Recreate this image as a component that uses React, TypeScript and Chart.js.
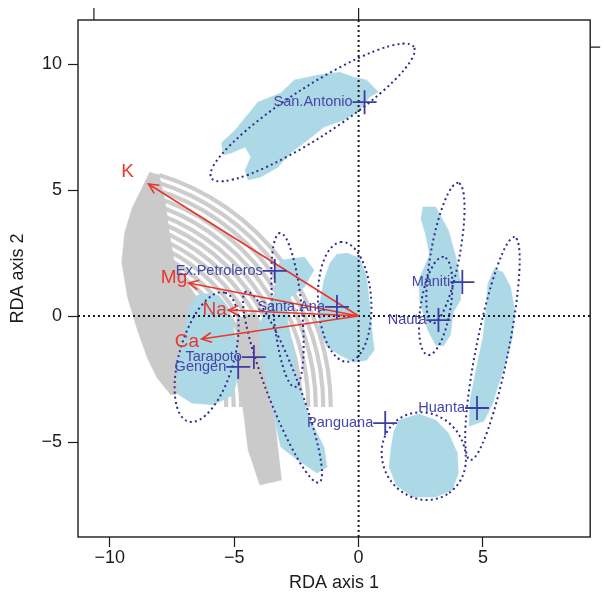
import React, { useEffect, useRef } from 'react';
import { Chart, registerables } from 'chart.js';
Chart.register(...registerables);

// ---------- axes ----------
const X_MIN = -11.28;
const X_MAX = 9.31;
const Y_MIN = -8.77;
const Y_MAX = 11.75;
const X_TICKS = [-10, -5, 0, 5];
const Y_TICKS = [-5, 0, 5, 10];
const TOP_TICKS = [-10.64, 0];
const RIGHT_TICKS = [10.67];

// ---------- site centroids ----------
const siteNames = ['San.Antonio', 'Ex.Petroleros', 'Santa.Ana', 'Tarapoto', 'Gengen', 'Maniti', 'Nauta', 'Huanta', 'Panguana'];
const siteX = [0.24, -3.37, -0.87, -4.21, -4.84, 4.17, 3.21, 4.76, 1.07];
const siteY = [8.49, 1.79, 0.36, -1.63, -2.02, 1.35, -0.16, -3.65, -4.25];

// ---------- ellipses (centre, semi-axes, angle in degrees) ----------
const ellCX = [-1.85, -0.56, 3.49, 3.10, 5.38, 2.62, -6.11, -2.86, -3.06];
const ellCY = [8.08, 0.56, 2.50, 0.40, -1.29, -5.56, -1.63, 0.24, -2.82];
const ellA = [4.83, 2.38, 2.83, 1.97, 4.51, 1.78, 2.66, 3.07, 4.06];
const ellB = [1.0, 1.07, 0.58, 0.6, 0.65, 1.65, 1.1, 0.58, 0.65];
const ellAng = [32.6, 93, 79.5, 80.7, 78.6, -55, 74, 95.6, 111.2];

// ---------- environmental arrows ----------
const envNames = ['K', 'Mg', 'Na', 'Ca'];
const envX = [-8.45, -6.83, -5.24, -6.31];
const envY = [5.24, 1.31, 0.24, -0.91];
const envLabelX = [-9.29, -7.42, -5.79, -6.9];
const envLabelY = [5.71, 1.51, 0.24, -1.03];

// ---------- site score clouds (outlines) ----------
const cloudSanAntonio = [
  [-5.52, 6.87], [-4.96, 7.38], [-4.05, 8.49], [-3.13, 8.85], [-2.58, 9.37], [-1.67, 9.56], [-0.75, 9.68],
  [-0.2, 9.48], [0.32, 9.37], [0.79, 8.89], [0.44, 8.69], [0.04, 8.17], [-0.6, 7.78], [-1.39, 7.5],
  [-2.06, 6.98], [-2.74, 6.47], [-3.25, 5.91], [-3.93, 5.52], [-4.44, 5.4], [-4.56, 5.79], [-4.33, 6.31],
  [-4.56, 6.71], [-5.12, 6.47], [-5.44, 6.39],
];
const cloudGengen = [
  [-6.31, 0.91], [-5.63, 0.83], [-5.24, 0.36], [-5.04, -0.44], [-4.84, -1.35], [-4.84, -2.34], [-5.04, -3.13],
  [-5.83, -3.53], [-6.71, -3.45], [-7.22, -3.13], [-7.34, -2.14], [-7.14, -1.15], [-6.94, -0.36], [-6.83, 0.32],
  [-6.55, 0.79],
];
const cloudTarapoto = [
  [-3.13, 2.22], [-2.18, 2.34], [-1.79, 1.83], [-2.18, 1.15], [-2.74, 0.75], [-2.86, -0.16], [-2.58, -1.47],
  [-2.46, -2.54], [-1.94, -4.13], [-1.39, -5.2], [-1.27, -5.99], [-1.67, -6.23], [-2.46, -5.71], [-3.13, -5.2],
  [-3.37, -4.13], [-3.65, -2.82], [-3.93, -1.47], [-4.05, -0.44], [-3.77, 0.12], [-3.37, 0.91], [-3.33, 1.83],
];
const cloudSantaAna = [
  [-0.48, 2.5], [0.04, 2.3], [0.32, 1.55], [0.44, 0.52], [0.52, -0.44], [0.63, -1.35], [0.32, -1.75],
  [-0.2, -1.83], [-0.75, -1.55], [-1.27, -1.23], [-1.59, -0.56], [-1.59, 0.36], [-1.39, 1.43], [-1.15, 2.1],
  [-0.87, 2.46],
];
const cloudManitiNauta = [
  [2.58, 4.33], [3.1, 4.33], [3.61, 3.41], [3.89, 2.42], [4.09, 1.43], [4.09, 0.63], [3.81, 0.16],
  [3.69, -0.75], [3.41, -1.19], [3.1, -1.15], [2.78, -0.56], [2.46, 0.63], [2.42, 1.43], [2.62, 1.9],
  [2.86, 2.42], [2.7, 3.21], [2.5, 3.89],
];
const cloudHuanta = [
  [5.44, 1.87], [5.79, 1.75], [6.11, 1.15], [6.27, 0.24], [6.19, -0.83], [5.91, -1.87], [5.64, -2.66],
  [5.4, -3.45], [5.04, -4.17], [4.44, -4.37], [4.48, -3.33], [4.72, -2.14], [5.0, -0.83], [5.12, 0.24],
  [5.2, 1.31],
];
const cloudPanguana = [
  [1.63, -4.13], [2.42, -3.89], [3.1, -4.13], [3.61, -4.64], [3.97, -5.44], [4.01, -6.23], [3.77, -6.9],
  [3.1, -7.18], [2.18, -7.18], [1.51, -6.71], [1.23, -5.99], [1.31, -5.2], [1.43, -4.52],
];
const greyDense = [
  [-8.41, 5.71], [-8.02, 5.6], [-7.78, 4.6], [-7.62, 3.41], [-7.42, 2.22], [-6.83, 1.23], [-6.43, 0.63],
  [-6.43, -2.94], [-7.54, -3.13], [-8.1, -2.46], [-8.49, -1.67], [-8.89, -0.56], [-9.29, 0.75], [-9.52, 2.14],
  [-9.4, 3.33], [-9.09, 4.33],
];
const greyTail = [
  [-4.92, -0.16], [-4.13, 0.24], [-3.55, -2.54], [-3.1, -6.51], [-3.97, -6.71], [-4.44, -5.32], [-4.64, -3.73],
  [-4.92, -2.14],
];
// grey striped fan (concentric arcs)
const STRIPE_CX = -10.87;
const STRIPE_CY = -3.61;
const STRIPE_RADII = [5.55, 5.85, 6.15, 6.45, 6.75, 7.05, 7.35, 7.65, 7.95, 8.25, 8.55, 8.85, 9.15, 9.45, 9.75];
const STRIPE_ANGLES = [73, 0]; // degrees, data orientation

const FONT = 'Liberation Sans, Arial, Helvetica, sans-serif';
const BLUE_FILL = '#add8e6';
const GREY_FILL = '#cacaca';
const STRIPE_COLOR = '#cdcdcd';
const ELL_COLOR = '#2e2e8c';
const SITE_COLOR = '#4646a6';
const RED = '#e8372c';
const INK = '#1c1c1c';

const fmt = (v: number) => (v < 0 ? '\u2212' + Math.abs(v) : String(v));
const pts = (arr: number[][]) => arr.map(([x, y]) => ({ x, y }));

function polygon(label: string, arr: number[][], color: string, order: number) {
  return {
    label,
    data: pts(arr),
    showLine: true,
    fill: 'shape',
    backgroundColor: color,
    borderColor: color,
    borderWidth: 0.5,
    pointRadius: 0,
    tension: 0,
    order,
  };
}

let ellipsesDrawn = false;

function drawEllipses(chart: any) {
  const { ctx, scales } = chart;
  const x = scales.x, y = scales.y;
  const kx = x.getPixelForValue(1) - x.getPixelForValue(0);
  const ky = y.getPixelForValue(1) - y.getPixelForValue(0);
  const area = chart.chartArea;
  ctx.save();
  ctx.lineCap = 'butt';
  // zero lines
  ctx.strokeStyle = INK;
  ctx.lineWidth = 2;
  ctx.setLineDash([2, 3]);
  const x0 = x.getPixelForValue(0), y0 = y.getPixelForValue(0);
  ctx.beginPath();
  ctx.moveTo(x0, area.top);
  ctx.lineTo(x0, area.bottom);
  ctx.moveTo(area.left, y0);
  ctx.lineTo(area.right, y0);
  ctx.stroke();
  // ellipses
  ctx.strokeStyle = ELL_COLOR;
  ctx.lineWidth = 2;
  ctx.setLineDash([2, 3.2]);
  for (let i = 0; i < ellCX.length; i++) {
    ctx.save();
    ctx.translate(x.getPixelForValue(ellCX[i]), y.getPixelForValue(ellCY[i]));
    ctx.scale(kx, ky);
    ctx.rotate((ellAng[i] * Math.PI) / 180);
    ctx.beginPath();
    ctx.ellipse(0, 0, ellA[i], ellB[i], 0, 0, Math.PI * 2);
    ctx.restore();
    ctx.stroke();
  }
  ctx.restore();
}

const plotPlugin = {
  id: 'rdaDecor',
  beforeDatasetsDraw(chart: any) {
    ellipsesDrawn = false;
    const { ctx, chartArea: area, scales } = chart;
    const x = scales.x, y = scales.y;
    const k = x.getPixelForValue(1) - x.getPixelForValue(0);
    ctx.save();
    ctx.beginPath();
    ctx.rect(area.left, area.top, area.right - area.left, area.bottom - area.top);
    ctx.clip();
    ctx.strokeStyle = STRIPE_COLOR;
    ctx.lineWidth = 4.2;
    const cx = x.getPixelForValue(STRIPE_CX), cy = y.getPixelForValue(STRIPE_CY);
    const a0 = (-STRIPE_ANGLES[0] * Math.PI) / 180;
    const a1 = (-STRIPE_ANGLES[1] * Math.PI) / 180;
    for (const r of STRIPE_RADII) {
      ctx.beginPath();
      ctx.arc(cx, cy, r * k, a0, a1);
      ctx.stroke();
    }
    ctx.restore();
  },
  beforeDatasetDraw(chart: any, args: any) {
    const ds = chart.data.datasets[args.index];
    if (ds && ds.kind === 'arrow' && !ellipsesDrawn) {
      drawEllipses(chart);
      ellipsesDrawn = true;
    }
  },
  afterDatasetsDraw(chart: any) {
    const { ctx, chartArea: area, scales } = chart;
    const x = scales.x, y = scales.y;
    if (!ellipsesDrawn) {
      drawEllipses(chart);
      ellipsesDrawn = true;
    }
    ctx.save();
    // arrow heads
    ctx.strokeStyle = RED;
    ctx.lineWidth = 1.6;
    const ox = x.getPixelForValue(0), oy = y.getPixelForValue(0);
    for (let i = 0; i < envX.length; i++) {
      const tx = x.getPixelForValue(envX[i]), ty = y.getPixelForValue(envY[i]);
      const ang = Math.atan2(ty - oy, tx - ox);
      const L = 11, spread = (26 * Math.PI) / 180;
      ctx.beginPath();
      ctx.moveTo(tx - L * Math.cos(ang - spread), ty - L * Math.sin(ang - spread));
      ctx.lineTo(tx, ty);
      ctx.lineTo(tx - L * Math.cos(ang + spread), ty - L * Math.sin(ang + spread));
      ctx.stroke();
    }
    // arrow labels
    ctx.fillStyle = RED;
    ctx.font = `19px ${FONT}`;
    ctx.textAlign = 'center';
    ctx.textBaseline = 'middle';
    for (let i = 0; i < envNames.length; i++) {
      ctx.fillText(envNames[i], x.getPixelForValue(envLabelX[i]), y.getPixelForValue(envLabelY[i]));
    }
    // site labels
    ctx.fillStyle = SITE_COLOR;
    ctx.font = `14.5px ${FONT}`;
    ctx.textAlign = 'right';
    for (let i = 0; i < siteNames.length; i++) {
      ctx.fillText(siteNames[i], x.getPixelForValue(siteX[i]) - 12, y.getPixelForValue(siteY[i]));
    }
    // frame
    ctx.strokeStyle = INK;
    ctx.lineWidth = 1.4;
    ctx.setLineDash([]);
    ctx.strokeRect(area.left, area.top, area.right - area.left, area.bottom - area.top);
    // extra ticks (top and right)
    ctx.lineWidth = 1.2;
    ctx.beginPath();
    for (const v of TOP_TICKS) {
      const px = x.getPixelForValue(v);
      ctx.moveTo(px, area.top);
      ctx.lineTo(px, area.top - 12);
    }
    for (const v of RIGHT_TICKS) {
      const py = y.getPixelForValue(v);
      ctx.moveTo(area.right, py);
      ctx.lineTo(area.right + 10, py);
    }
    ctx.stroke();
    ctx.restore();
  },
};

export default function App() {
  const ref = useRef<HTMLCanvasElement>(null);
  useEffect(() => {
    if (!ref.current) return;
    const datasets: any[] = [
      polygon('grey dense', greyDense, GREY_FILL, 40),
      polygon('grey tail', greyTail, GREY_FILL, 40),
      polygon('San.Antonio', cloudSanAntonio, BLUE_FILL, 30),
      polygon('Gengen', cloudGengen, BLUE_FILL, 30),
      polygon('Tarapoto', cloudTarapoto, BLUE_FILL, 30),
      polygon('Santa.Ana', cloudSantaAna, BLUE_FILL, 30),
      polygon('Maniti/Nauta', cloudManitiNauta, BLUE_FILL, 30),
      polygon('Huanta', cloudHuanta, BLUE_FILL, 30),
      polygon('Panguana', cloudPanguana, BLUE_FILL, 30),
    ];
    envNames.forEach((n, i) => {
      datasets.push({
        label: n,
        kind: 'arrow',
        data: [{ x: 0, y: 0 }, { x: envX[i], y: envY[i] }],
        showLine: true,
        fill: false,
        borderColor: RED,
        borderWidth: 1.6,
        pointRadius: 0,
        order: 20,
      });
    });
    datasets.push({
      label: 'centroids',
      data: siteX.map((v, i) => ({ x: v, y: siteY[i] })),
      showLine: false,
      pointStyle: 'cross',
      pointRadius: 12,
      borderColor: '#3c3ca4',
      backgroundColor: '#3c3ca4',
      pointBorderWidth: 1.8,
      borderWidth: 1.8,
      order: 10,
    });

    const tickFont = { family: FONT, size: 18 };
    const chart = new Chart(ref.current, {
      type: 'scatter',
      data: { datasets },
      plugins: [plotPlugin],
      options: {
        animation: false,
        responsive: false,
        maintainAspectRatio: false,
        events: [],
        layout: { padding: { left: 0, top: 20, right: 8, bottom: 0 } },
        plugins: {
          legend: { display: false },
          tooltip: { enabled: false },
        },
        scales: {
          x: {
            type: 'linear',
            min: X_MIN,
            max: X_MAX,
            afterBuildTicks: (s: any) => {
              s.ticks = X_TICKS.map((v) => ({ value: v }));
            },
            afterFit: (s: any) => {
              s.height = 61;
            },
            grid: { drawOnChartArea: false, drawTicks: true, tickLength: 10, color: INK, tickWidth: 1.2 },
            border: { display: false },
            ticks: {
              font: tickFont,
              color: INK,
              padding: 0,
              autoSkip: false,
              maxRotation: 0,
              callback: (v: any) => fmt(Number(v)),
            },
            title: { display: true, text: 'RDA axis 1', font: tickFont, color: INK, padding: { top: 0, bottom: 4 } },
          },
          y: {
            type: 'linear',
            min: Y_MIN,
            max: Y_MAX,
            afterBuildTicks: (s: any) => {
              s.ticks = Y_TICKS.map((v) => ({ value: v }));
            },
            afterFit: (s: any) => {
              s.width = 78;
            },
            grid: { drawOnChartArea: false, drawTicks: true, tickLength: 10, color: INK, tickWidth: 1.2 },
            border: { display: false },
            ticks: {
              font: tickFont,
              color: INK,
              padding: 6,
              autoSkip: false,
              callback: (v: any) => fmt(Number(v)),
            },
            title: { display: true, text: 'RDA axis 2', font: tickFont, color: INK, padding: { top: 7, bottom: 0 } },
          },
        },
      } as any,
    });
    return () => chart.destroy();
  }, []);
  return (
    <div style={{ position: 'fixed', left: 0, top: 0, width: 604, height: 598, background: '#ffffff' }}>
      <canvas ref={ref} width={604} height={598} style={{ display: 'block', width: 604, height: 598 }} />
    </div>
  );
}
